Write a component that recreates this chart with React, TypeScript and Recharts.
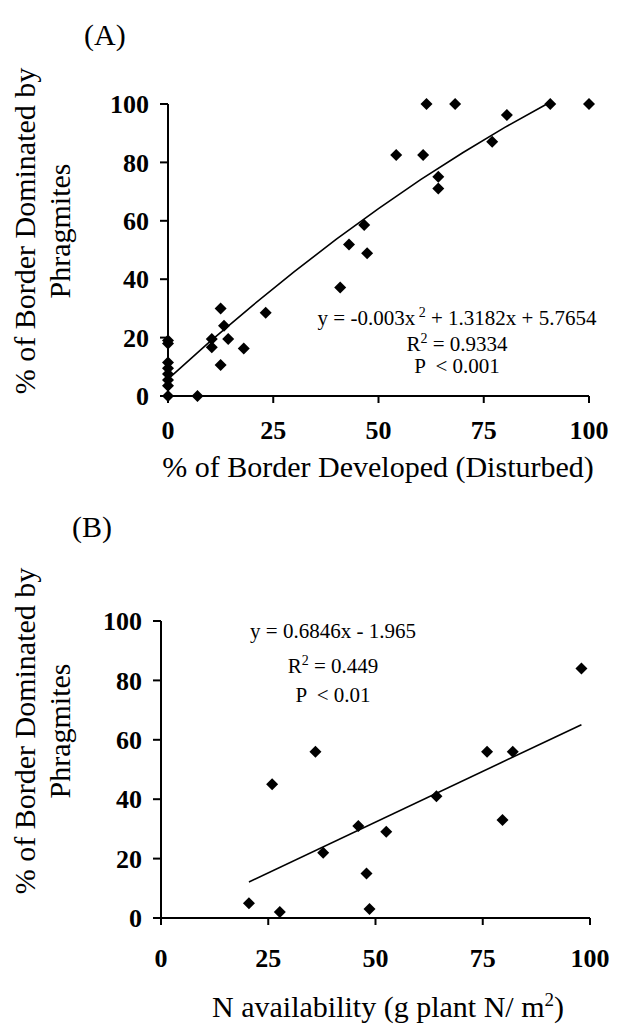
import { Scatter, ScatterChart, XAxis, YAxis } from "recharts";

// panel A: % developed vs % Phragmites
const developedA = [0, 0, 0, 0, 0, 0, 0, 0, 7, 10.4, 10.4, 12.5, 12.5, 13.3, 14.3, 18, 23.2, 40.9, 43, 46.6, 47.3, 54.2, 60.6, 61.4, 64.2, 64.2, 68.2, 77, 80.5, 90.8, 100];
const phragA = [0, 3.5, 5.5, 7.5, 9.5, 11.5, 18, 19, 0, 19.5, 16.7, 30, 10.6, 24.1, 19.5, 16.3, 28.5, 37.2, 51.9, 58.6, 48.9, 82.5, 82.5, 100, 75.1, 71.1, 100, 87.1, 96.2, 100, 100];
const fitXA = [0, 10, 20, 30, 40, 50, 60, 70, 80, 90];
const fitYA = [5.8, 18.7, 30.9, 42.6, 53.7, 64.2, 74.1, 83.3, 92, 100];

// panel B: N availability vs % Phragmites
const nAvailB = [20.5, 25.9, 27.7, 36, 37.8, 46, 47.9, 48.6, 52.5, 64.2, 76, 79.6, 82, 98];
const phragB = [5, 45, 2, 56, 22, 31, 15, 3, 29, 41, 56, 33, 56, 84];
const fitXB = [20.5, 98];
const fitYB = [12.1, 65.1];

const xTicks = [0, 25, 50, 75, 100];
const yTicks = [0, 20, 40, 60, 80, 100];

const toPoints = (xs: number[], ys: number[]) => xs.map((x, i) => ({ x, y: ys[i] }));

const serif = '"Liberation Serif", "Times New Roman", serif';

const Diamond = (props: any) => {
  const { cx, cy } = props;
  if (cx == null || cy == null) return <g />;
  const r = 6;
  return <path d={`M${cx},${cy - r}L${cx + r},${cy}L${cx},${cy + r}L${cx - r},${cy}Z`} fill="#000" />;
};

const NoDot = () => <g />;

const axisStyle = { stroke: "#000", strokeWidth: 2 };
const tickStyle = { fill: "#000", fontSize: 26, fontWeight: "bold", fontFamily: serif };

interface PanelProps {
  points: { x: number; y: number }[];
  fit: { x: number; y: number }[];
  height: number;
  margin: { top: number; right: number; bottom: number; left: number };
  xTickMargin: number;
}

function Panel({ points, fit, height, margin, xTickMargin }: PanelProps) {
  return (
    <ScatterChart width={620} height={height} margin={margin}>
      <XAxis
        type="number"
        dataKey="x"
        domain={[0, 100]}
        ticks={xTicks}
        interval={0}
        height={40}
        axisLine={axisStyle}
        tickLine={axisStyle}
        tickSize={7}
        tickMargin={xTickMargin}
        tick={tickStyle}
      />
      <YAxis
        type="number"
        dataKey="y"
        domain={[0, 100]}
        ticks={yTicks}
        interval={0}
        width={60}
        axisLine={axisStyle}
        tickLine={axisStyle}
        tickSize={8}
        tickMargin={11}
        tick={tickStyle}
      />
      <Scatter data={fit} shape={NoDot} line={{ stroke: "#000", strokeWidth: 1.6 }} lineType="joint" isAnimationActive={false} />
      <Scatter data={points} shape={Diamond} isAnimationActive={false} />
    </ScatterChart>
  );
}

export default function App() {
  const textStyle = { fontFamily: serif, fill: "#000" };
  return (
    <div style={{ position: "absolute", left: 0, top: 0, width: 620, height: 1028, background: "#fff" }}>
      <div style={{ position: "absolute", left: 0, top: 0 }}>
        <Panel
          points={toPoints(developedA, phragA)}
          fit={toPoints(fitXA, fitYA)}
          height={500}
          margin={{ top: 104, right: 31, bottom: 64, left: 108 }}
          xTickMargin={18}
        />
      </div>
      <div style={{ position: "absolute", left: 0, top: 500 }}>
        <Panel
          points={toPoints(nAvailB, phragB)}
          fit={toPoints(fitXB, fitYB)}
          height={528}
          margin={{ top: 121, right: 30, bottom: 70, left: 101 }}
          xTickMargin={24}
        />
      </div>
      <svg width={620} height={1028} style={{ position: "absolute", left: 0, top: 0, pointerEvents: "none" }}>
        {/* panel A text */}
        <text x={84} y={45} fontSize={30} {...textStyle}>(A)</text>
        <g transform="translate(35,231) rotate(-90)">
          <text x={0} y={0} textAnchor="middle" fontSize={30} {...textStyle}>% of Border Dominated by</text>
        </g>
        <g transform="translate(70,231) rotate(-90)">
          <text x={0} y={0} textAnchor="middle" fontSize={30} {...textStyle}>Phragmites</text>
        </g>
        <text x={378} y={477} textAnchor="middle" fontSize={30} {...textStyle}>% of Border Developed (Disturbed)</text>
        <text x={457} y={325} textAnchor="middle" fontSize={21} {...textStyle}>
          y = -0.003x<tspan dy={-8} fontSize={14}> 2</tspan>
          <tspan dy={8}> + 1.3182x + 5.7654</tspan>
        </text>
        <text x={457} y={351} textAnchor="middle" fontSize={21} {...textStyle}>
          R<tspan dy={-8} fontSize={14}>2</tspan>
          <tspan dy={8}> = 0.9334</tspan>
        </text>
        <text x={457} y={373} textAnchor="middle" fontSize={21} {...textStyle} style={{ whiteSpace: "pre" }}>P  &lt; 0.001</text>

        {/* panel B text */}
        <text x={72} y={537} fontSize={30} {...textStyle}>(B)</text>
        <g transform="translate(35,731) rotate(-90)">
          <text x={0} y={0} textAnchor="middle" fontSize={30} {...textStyle}>% of Border Dominated by</text>
        </g>
        <g transform="translate(70,731) rotate(-90)">
          <text x={0} y={0} textAnchor="middle" fontSize={30} {...textStyle}>Phragmites</text>
        </g>
        <text x={388} y={1017} textAnchor="middle" fontSize={30} {...textStyle}>
          N availability (g plant N/ m<tspan dy={-11} fontSize={19}>2</tspan>
          <tspan dy={11}>)</tspan>
        </text>
        <text x={333} y={638} textAnchor="middle" fontSize={21} {...textStyle}>y = 0.6846x - 1.965</text>
        <text x={333} y={673} textAnchor="middle" fontSize={21} {...textStyle}>
          R<tspan dy={-8} fontSize={14}>2</tspan>
          <tspan dy={8}> = 0.449</tspan>
        </text>
        <text x={333} y={702} textAnchor="middle" fontSize={21} {...textStyle} style={{ whiteSpace: "pre" }}>P  &lt; 0.01</text>
      </svg>
    </div>
  );
}
